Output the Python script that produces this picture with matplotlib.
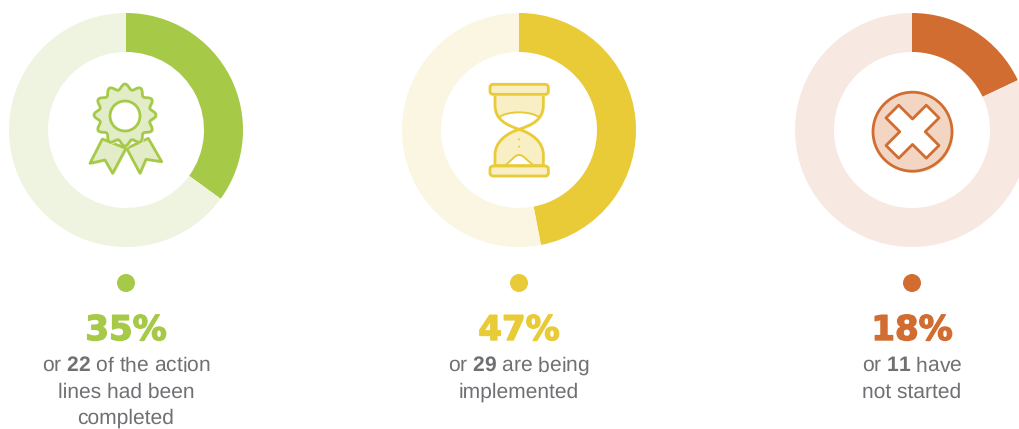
import matplotlib
matplotlib.use("Agg")
import matplotlib.pyplot as plt
import matplotlib.patheffects as pe
import numpy as np
from matplotlib.patches import Circle, Polygon, PathPatch, FancyBboxPatch
from matplotlib.path import Path

plt.rcParams["font.family"] = "Liberation Sans"
plt.rcParams["text.hinting"] = "no_hinting"
plt.rcParams["text.hinting_factor"] = 1
plt.rcParams["mathtext.fontset"] = "custom"
plt.rcParams["mathtext.rm"] = "Liberation Sans"
plt.rcParams["mathtext.bf"] = "Liberation Sans:bold"

W, H = 1019, 429

percents = [35, 47, 18]
counts = [22, 29, 11]
captions = [
    ["or {} of the action", "lines had been", "completed"],
    ["or {} are being", "implemented"],
    ["or {} have", "not started"],
]
colors = ["#a6c947", "#e9ca37", "#d16d30"]
pale_colors = ["#eef4e0", "#fbf6e1", "#f7e9e1"]
fills = ["#e2edc8", "#f9efc4", "#f3d5c4"]
shadows = ["#eff5df", "#fcf7e2", "#f9e8de"]
centers_x = [126, 519, 912]

CENTER_Y = 130
OUTER_R = 117
RING_W = 39
TEXT_GREY = "#6f7073"
LW = 2.0

M, L, C, Z = Path.MOVETO, Path.LINETO, Path.CURVE4, Path.CLOSEPOLY

fig = plt.figure(figsize=(W / 100, H / 100), dpi=100)
ax = fig.add_axes([0, 0, 1, 1])
ax.set_xlim(0, W)
ax.set_ylim(0, H)
ax.axis("off")


def yy(py):
    return H - py


def to_px(points, x0, y0):
    # icon outlines are sketched on a 3x grid, origin at the icon box corner
    pts = np.asarray(points, dtype=float)
    return np.column_stack([x0 + pts[:, 0] / 3, yy(y0 + pts[:, 1] / 3)])


def add_shape(points, codes, x0, y0, fill, edge, shadow=None, lw=LW, z=5):
    verts = to_px(points, x0, y0)
    if shadow:
        ghost = Path(verts + [1.6, -1.6], codes)
        ax.add_patch(PathPatch(ghost, fc=shadow, ec="none", zorder=z - 1))
    ax.add_patch(PathPatch(Path(verts, codes), fc=fill, ec=edge, lw=lw, zorder=z, joinstyle="round"))


def poly_codes(n):
    return [M] + [L] * (n - 2) + [Z]


def draw_medal(cx, color, fill, shadow):
    x0, y0 = cx - 56, 70
    left = [(97, 207), (60, 280), (105, 270), (128, 310), (168, 235), (97, 207)]
    right = [(235, 205), (275, 275), (228, 268), (210, 310), (170, 235), (235, 205)]
    add_shape(left, poly_codes(6), x0, y0, fill, color, shadow)
    add_shape(right, poly_codes(6), x0, y0, fill, color, shadow)

    # scalloped rosette around the ring
    theta = np.linspace(0, 2 * np.pi, 241)
    r = 85 + 8 * np.cos(12 * theta)
    rosette = np.column_stack([165 + r * np.sin(theta), 135 + r * np.cos(theta)])
    rosette[-1] = rosette[0]
    add_shape(rosette, poly_codes(len(rosette)), x0, y0, fill, color, shadow, z=6)

    centre = to_px([(165, 138)], x0, y0)[0]
    ax.add_patch(Circle(centre, 15, fc="white", ec=color, lw=LW, zorder=7))


def draw_hourglass(cx, color, fill, shadow):
    x0, y0 = cx - 59, 70

    glass = [(105, 72), (105, 105), (105, 150), (140, 165), (177, 178),
             (140, 190), (105, 215), (105, 255), (105, 287), (250, 287),
             (250, 255), (250, 215), (215, 190), (177, 178), (215, 165),
             (250, 150), (250, 105), (250, 72), (105, 72)]
    codes = [M, L, C, C, C, C, C, C, L, L, L, C, C, C, C, C, C, L, Z]
    add_shape(glass, codes, x0, y0, "white", "none", shadow, z=5)

    # sand in the upper bulb, under a shallow arc
    top_sand = [(105, 72), (105, 105), (105, 118), (109, 130), (118, 142),
                (140, 122), (214, 122), (237, 142), (246, 130), (250, 118),
                (250, 105), (250, 72), (105, 72)]
    add_shape(top_sand, [M, L, C, C, C, C, C, C, C, C, C, L, Z], x0, y0, fill, "none", z=6)
    arc = [(118, 142), (140, 122), (214, 122), (237, 142)]
    ax.add_patch(PathPatch(Path(to_px(arc, x0, y0), [M, C, C, C]), fc="none", ec=color, lw=1.4, zorder=7))

    # lower bulb is full apart from the white mound
    lower = [(177, 178), (140, 190), (105, 215), (105, 255), (105, 287),
             (250, 287), (250, 255), (250, 215), (215, 190), (177, 178)]
    add_shape(lower, [M, C, C, C, L, L, L, C, C, C], x0, y0, fill, "none", z=6)
    mound = [(135, 287), (155, 270), (165, 255), (177, 255), (190, 255), (200, 270), (222, 287)]
    add_shape(mound, [M, C, C, C, C, C, C], x0, y0, "white", color, lw=1.4, z=7)

    ax.add_patch(PathPatch(Path(to_px(glass, x0, y0), codes), fc="none", ec=color, lw=LW, zorder=8))

    for zy in (208, 230):
        ax.add_patch(Circle(to_px([(177, zy)], x0, y0)[0], 1.0, fc=color, ec="none", zorder=8))

    # caps
    for zy in (42, 287):
        px = to_px([(90, zy + 31)], x0, y0)[0]
        w, h = 175 / 3, 30 / 3
        ax.add_patch(FancyBboxPatch((px[0] + 1.6, px[1] - 1.6), w, h, boxstyle="round,pad=0,rounding_size=3",
                                    fc=shadow, ec="none", zorder=9))
        ax.add_patch(FancyBboxPatch(px, w, h, boxstyle="round,pad=0,rounding_size=3",
                                    fc=fill, ec=color, lw=LW, zorder=10))


def draw_cross(cx, color, fill, shadow):
    cy = 131.7
    centre = np.array([cx + 0.5, yy(cy)])
    ax.add_patch(Circle(centre + [1.6, -1.6], 39.5, fc=shadow, ec="none", zorder=4))
    ax.add_patch(Circle(centre, 39.5, fc=fill, ec=color, lw=LW, zorder=5))

    a, b = 28.5, 9
    outline = np.array([(-b, -a), (b, -a), (b, -b), (a, -b), (a, b), (b, b),
                        (b, a), (-b, a), (-b, b), (-a, b), (-a, -b), (-b, -b)])
    c, s = np.cos(np.pi / 4), np.sin(np.pi / 4)
    rotated = outline @ np.array([[c, -s], [s, c]])
    ax.add_patch(Polygon(rotated + centre, closed=True, fc="white", ec=color, lw=LW, zorder=6, joinstyle="round"))


icons = [draw_medal, draw_hourglass, draw_cross]

for i, cx in enumerate(centers_x):
    # ring, starting at twelve o'clock and running clockwise
    ax.pie(
        [percents[i], 100 - percents[i]],
        colors=[colors[i], pale_colors[i]],
        center=(cx, yy(CENTER_Y)),
        radius=OUTER_R,
        startangle=90,
        counterclock=False,
        frame=True,
        wedgeprops=dict(width=RING_W, linewidth=0),
    )
    icons[i](cx, colors[i], fills[i], shadows[i])

    ax.add_patch(Circle((cx, yy(283)), 9, fc=colors[i], ec="none"))

    ax.text(cx, yy(340), f"{percents[i]}%", color=colors[i], ha="center", va="baseline",
            family="DejaVu Sans", fontweight="bold", fontsize=24.5,
            path_effects=[pe.withStroke(linewidth=1.0, foreground=colors[i])])

    for j, line in enumerate(captions[i]):
        label = line.format(r"$\mathbf{%d}$" % counts[i])
        ax.text(cx, yy(372 + 26 * j), label, color=TEXT_GREY, ha="center", va="baseline", fontsize=15.25)

ax.set_xlim(0, W)
ax.set_ylim(0, H)
ax.set_aspect("auto")
ax.axis("off")

plt.savefig("out.png", dpi=100)
